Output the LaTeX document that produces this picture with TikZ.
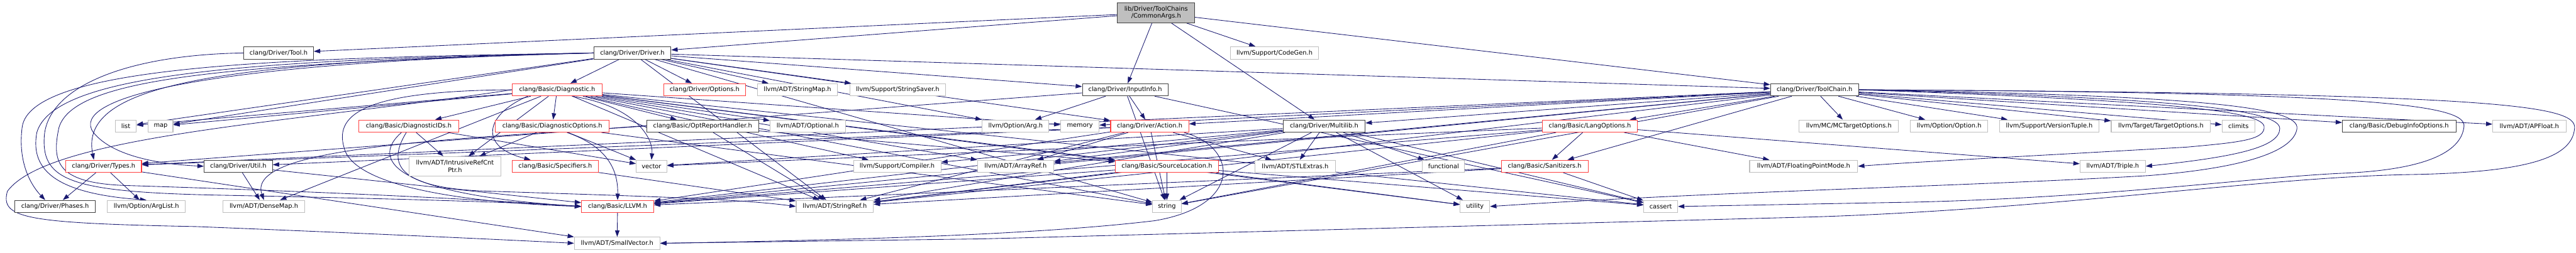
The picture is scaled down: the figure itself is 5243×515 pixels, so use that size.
\documentclass[tikz,border=0pt]{standalone}
\usepackage{fontspec}
\setmainfont{DejaVu Sans}
\usetikzlibrary{arrows.meta,backgrounds}

\definecolor{incblue}{HTML}{191970}
\definecolor{truncred}{HTML}{FF4040}
\definecolor{extgray}{HTML}{BFBFBF}
\definecolor{docblack}{HTML}{404040}

\tikzset{
  hdr/.style={draw=docblack, fill=white, line width=1.3pt, inner sep=0pt,
    minimum height=25pt, font=\fontsize{12.6}{15}\selectfont},
  trunc/.style={hdr, draw=truncred},
  ext/.style={hdr, draw=extgray},
  rootfile/.style={hdr, fill=extgray, minimum height=41pt, align=center},
  inc/.style={incblue, line width=1.1pt, -{Triangle[length=13pt,width=9pt]}},
}

\begin{document}
\begin{tikzpicture}[x=1pt,y=-1pt]
\useasboundingbox (0,0) rectangle (5243,515);

% rank 0
\node[rootfile, minimum width=157pt] (cargs) at (2353,26) {lib/Driver/ToolChains\\/CommonArgs.h};

% rank 1
\node[hdr, minimum width=142pt] (tool) at (567,108) {clang/Driver/Tool.h};
\node[hdr, minimum width=157pt] (driver) at (1287,108) {clang/Driver/Driver.h};
\node[ext, minimum width=180pt] (codegen) at (2594,108) {llvm/Support/CodeGen.h};

% rank 2
\node[trunc, minimum width=182pt] (diag) at (1134,183) {clang/Basic/Diagnostic.h};
\node[trunc, minimum width=167pt] (opts) at (1434,183) {clang/Driver/Options.h};
\node[ext, minimum width=163pt] (smap) at (1623,183) {llvm/ADT/StringMap.h};
\node[ext, minimum width=194pt] (ssaver) at (1827,183) {llvm/Support/StringSaver.h};
\node[hdr, minimum width=174pt] (input) at (2290,183) {clang/Driver/InputInfo.h};
\node[hdr, minimum width=179pt] (tchain) at (3693,183) {clang/Driver/ToolChain.h};

% rank 3
\node[ext, minimum width=43pt] (list) at (256,257) {list};
\node[ext, minimum width=50pt] (map) at (327,257) {map};
\node[trunc, minimum width=203pt] (diagids) at (832,257) {clang/Basic/DiagnosticIDs.h};
\node[trunc, minimum width=231pt] (diagopts) at (1124,257) {clang/Basic/DiagnosticOptions.h};
\node[hdr, minimum width=228pt] (optrep) at (1430,257) {clang/Basic/OptReportHandler.h};
\node[ext, minimum width=153pt] (optional) at (1644,257) {llvm/ADT/Optional.h};
\node[ext, minimum width=136pt] (arg) at (2067,257) {llvm/Option/Arg.h};
\node[ext, minimum width=78pt] (memory) at (2198,257) {memory};
\node[trunc, minimum width=159pt] (action) at (2340,257) {clang/Driver/Action.h};
\node[hdr, minimum width=167pt] (multilib) at (2695,257) {clang/Driver/Multilib.h};
\node[trunc, minimum width=193pt] (langopts) at (3236,257) {clang/Basic/LangOptions.h};
\node[ext, minimum width=202pt] (mctarget) at (3763,257) {llvm/MC/MCTargetOptions.h};
\node[ext, minimum width=157pt] (option) at (3967,257) {llvm/Option/Option.h};
\node[ext, minimum width=202pt] (version) at (4171,257) {llvm/Support/VersionTuple.h};
\node[ext, minimum width=202pt] (target) at (4398,257) {llvm/Target/TargetOptions.h};
\node[ext, minimum width=67pt] (climits) at (4556,257) {climits};
\node[hdr, minimum width=231pt] (debuginfo) at (4883,257) {clang/Basic/DebugInfoOptions.h};
\node[ext, minimum width=149pt] (apfloat) at (5148,257) {llvm/ADT/APFloat.h};

% rank 4
\node[trunc, minimum width=154pt] (types) at (211,339) {clang/Driver/Types.h};
\node[hdr, minimum width=139pt] (util) at (485,339) {clang/Driver/Util.h};
\node[ext, minimum width=186pt, minimum height=40pt, align=center] (intrusive) at (926,339) {llvm/ADT/IntrusiveRefCnt\\Ptr.h};
\node[trunc, minimum width=175pt] (specifiers) at (1130,339) {clang/Basic/Specifiers.h};
\node[ext, minimum width=62pt] (vector) at (1326,339) {vector};
\node[ext, minimum width=178pt] (compiler) at (1826,339) {llvm/Support/Compiler.h};
\node[ext, minimum width=155pt] (arrayref) at (2067,339) {llvm/ADT/ArrayRef.h};
\node[trunc, minimum width=210pt] (srcloc) at (2375,339) {clang/Basic/SourceLocation.h};
\node[ext, minimum width=163pt] (stlextras) at (2636,339) {llvm/ADT/STLExtras.h};
\node[ext, minimum width=86pt] (functional) at (2938,339) {functional};
\node[trunc, minimum width=177pt] (sanitizers) at (3144,339) {clang/Basic/Sanitizers.h};
\node[ext, minimum width=220pt] (fpmode) at (3671,339) {llvm/ADT/FloatingPointMode.h};
\node[ext, minimum width=133pt] (triple) at (4300,339) {llvm/ADT/Triple.h};

% rank 5
\node[hdr, minimum width=163pt] (phases) at (112,421) {clang/Driver/Phases.h};
\node[ext, minimum width=159pt] (arglist) at (298,421) {llvm/Option/ArgList.h};
\node[ext, minimum width=167pt] (densemap) at (537,421) {llvm/ADT/DenseMap.h};
\node[trunc, minimum width=147pt] (llvm) at (1257,421) {clang/Basic/LLVM.h};
\node[ext, minimum width=157pt] (stringref) at (1699,421) {llvm/ADT/StringRef.h};
\node[ext, minimum width=58pt] (string) at (2375,421) {string};
\node[ext, minimum width=60pt] (utility) at (3002,421) {utility};
\node[ext, minimum width=69pt] (cassert) at (3380,421) {cassert};

% rank 6
\node[ext, minimum width=174pt] (smallvec) at (1256,496) {llvm/ADT/SmallVector.h};

\begin{scope}[on background layer]
  % straight includes
  \foreach \t in {tool,driver,input,multilib,tchain,codegen}
    \draw[inc] (cargs) -- (\t);
  \foreach \t in {diag,opts,smap,ssaver,input,tchain,arg,action,list,map,stringref,string}
    \draw[inc] (driver) -- (\t);
  \foreach \t in {diagids,diagopts,optrep,srcloc,arrayref,densemap,intrusive,optional,stringref,compiler,cassert,list,map,memory,string,utility}
    \draw[inc] (diag) -- (\t);
  \foreach \t in {intrusive,vector}
    \draw[inc] (diagids) -- (\t);
  \foreach \t in {intrusive,vector,string}
    \draw[inc] (diagopts) -- (\t);
  \foreach \t in {stringref,srcloc}
    \draw[inc] (optrep) -- (\t);
  \foreach \t in {action,types,arg,cassert,string}
    \draw[inc] (input) -- (\t);
  \foreach \t in {types,util,arrayref,stlextras,stringref,llvm,string}
    \draw[inc] (action) -- (\t);
  \foreach \t in {stlextras,functional,utility,string,stringref,arrayref,compiler,cassert,vector,llvm}
    \draw[inc] (multilib) -- (\t);
  \foreach \t in {sanitizers,fpmode,triple,stringref,string,vector,llvm}
    \draw[inc] (langopts) -- (\t);
  \foreach \t in {llvm,stringref,cassert}
    \draw[inc] (sanitizers) -- (\t);
  \foreach \t in {string,llvm,stringref,utility,cassert}
    \draw[inc] (srcloc) -- (\t);
  \foreach \t in {phases,arglist,smallvec}
    \draw[inc] (types) -- (\t);
  \foreach \t in {densemap,llvm}
    \draw[inc] (util) -- (\t);
  \foreach \t in {debuginfo,apfloat,climits,target,version,option,mctarget,langopts,sanitizers,multilib,action,types,memory,arrayref,stringref,llvm,string}
    \draw[inc] (tchain) -- (\t);
  \draw[inc] (specifiers) -- (stringref);
  \draw[inc] (llvm) -- (smallvec);

  % wrap round the left side
  \draw[inc] (tool.west) .. controls (250,112) and (95,180) .. (90,280)
    .. controls (85,370) and (150,392) .. (450,398)
    .. controls (800,405) and (1050,412) .. (llvm.west);
  \draw[inc] (driver.west) .. controls (600,118) and (60,130) .. (45,260)
    .. controls (35,340) and (70,385) .. ([xshift=-20pt]phases.north);
  \draw[inc] (driver.west) .. controls (500,122) and (110,150) .. (75,270)
    .. controls (60,350) and (120,395) .. (arglist.north);
  \draw[inc] (driver.west) .. controls (450,125) and (160,170) .. ([xshift=-20pt]types.north);
  \draw[inc] (driver.west) .. controls (400,128) and (140,200) .. (190,270)
    .. controls (230,320) and (330,335) .. (util.west);
  \draw[inc] (driver.west) .. controls (450,130) and (150,160) .. (120,260)
    .. controls (105,330) and (115,372) .. (250,378)
    .. controls (700,392) and (1000,408) .. (llvm.west);
  \draw[inc] (diag.west) .. controls (600,250) and (100,275) .. (15,390)
    .. controls (0,445) and (50,455) .. (400,462)
    .. controls (800,478) and (1050,490) .. (smallvec.west);
  \draw[inc] (diag.west) .. controls (750,185) and (680,230) .. (700,300)
    .. controls (720,390) and (1000,415) .. (llvm.west);
  \draw[inc] ([xshift=-60pt]diag.south) .. controls (985,235) and (975,300) .. ([xshift=-50pt]specifiers.north);
  \draw[inc] ([xshift=30pt]diag.south) .. controls (1290,215) and (1330,280) .. (vector.north);
  \draw[inc] ([xshift=30pt]diagopts.south) .. controls (1240,300) and (1258,350) .. (llvm.north);
  \draw[inc] ([xshift=-15pt]diagids.south) .. controls (760,320) and (780,395) .. (llvm.west);
  \draw[inc] ([xshift=-5pt]diagids.south) .. controls (790,330) and (800,385) .. (1000,390)
    .. controls (1300,400) and (1500,405) .. (stringref.west);
  \draw[inc] (optrep.west) .. controls (900,285) and (500,300) .. (densemap.north);
  \draw[inc] ([xshift=70pt]action.south) .. controls (2520,300) and (2530,420) .. (2350,450)
    .. controls (2100,480) and (1700,490) .. (smallvec.east);

  % wrap round the right side
  \draw[inc] (tchain.east) .. controls (5100,190) and (5245,215) .. (5240,262)
    .. controls (5235,320) and (5150,352) .. (4900,356)
    .. controls (4600,362) and (4200,425) .. (3700,442) -- (2000,487) -- (smallvec.east);
  \draw[inc] (tchain.east) .. controls (4850,188) and (5020,215) .. (5015,258)
    .. controls (5010,305) and (4950,345) .. (4773,353)
    .. controls (4600,360) and (4300,402) .. (3900,412) -- (cassert.east);
  \draw[inc] (tchain.east) .. controls (4400,205) and (4600,225) .. (4608,257)
    .. controls (4612,285) and (4560,290) .. (4450,300)
    .. controls (4100,320) and (3900,330) .. (fpmode.east);
  \draw[inc] (tchain.east) .. controls (4450,200) and (4640,225) .. (4640,262)
    .. controls (4640,300) and (4550,320) .. (triple.east);
  \draw[inc] (tchain.east) .. controls (4500,195) and (4680,220) .. (4675,262)
    .. controls (4670,300) and (4600,340) .. (4373,358)
    .. controls (4000,380) and (3500,390) .. (utility.east);
\end{scope}

\end{tikzpicture}
\end{document}
